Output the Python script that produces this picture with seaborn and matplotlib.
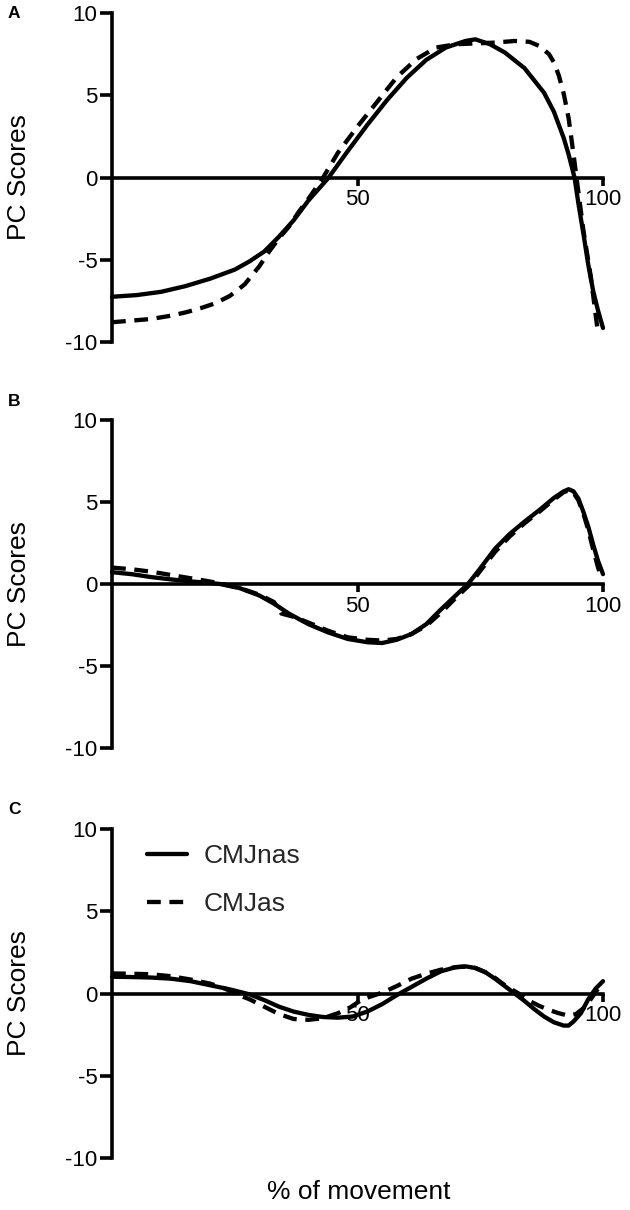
import matplotlib
matplotlib.use("Agg")
import matplotlib.pyplot as plt
import seaborn as sns
import pandas as pd

# ---------------- data ----------------
a_solid_x = [0, 5, 10, 15, 20, 25, 28, 31, 34, 37, 40, 44, 48, 52, 56, 60, 64, 68, 72, 74,
             77, 80, 84, 88, 90, 91, 92, 93, 94.2, 95, 96, 97, 98, 99, 100]
a_solid_y = [-7.25, -7.15, -6.95, -6.6, -6.15, -5.6, -5.1, -4.5, -3.6, -2.6, -1.4, -0.05, 1.6,
             3.2, 4.7, 6.05, 7.15, 7.9, 8.3, 8.4, 8.1, 7.6, 6.65, 5.15, 4.0, 3.2, 2.4, 1.4, 0.0,
             -1.6, -3.4, -5.3, -6.9, -8.1, -9.15]
a_dash_x = [0, 4, 8, 12, 15, 18, 21, 24, 27, 30, 32, 34, 36, 38, 40, 43, 46, 50, 54, 58, 62,
            66, 70, 74, 78, 82, 85, 87, 89, 90, 91, 92, 93, 94, 94.6, 96, 97.5, 99]
a_dash_y = [-8.8, -8.7, -8.6, -8.4, -8.2, -7.95, -7.65, -7.2, -6.5, -5.4, -4.5, -3.7, -3.0,
            -2.1, -1.3, 0.0, 1.5, 3.1, 4.6, 6.1, 7.2, 7.9, 8.1, 8.15, 8.2, 8.3, 8.25, 8.0, 7.5,
            7.0, 6.2, 5.1, 3.6, 1.4, 0.0, -3.2, -6.0, -9.5]

b_solid_x = [0, 4, 8, 12, 16, 20, 22, 26, 30, 33, 36, 40, 44, 48, 52, 55, 58, 61, 64, 67, 70,
             72.5, 75, 78, 81, 84, 87, 90, 92, 93, 94, 95, 96, 97, 98, 99, 100]
b_solid_y = [0.72, 0.6, 0.42, 0.28, 0.16, 0.06, 0.0, -0.25, -0.7, -1.2, -1.8, -2.45, -2.95,
             -3.35, -3.55, -3.6, -3.4, -3.05, -2.45, -1.55, -0.7, 0.0, 0.95, 2.15, 3.05, 3.8,
             4.5, 5.25, 5.65, 5.78, 5.65, 5.2, 4.4, 3.5, 2.4, 1.4, 0.6]
b_dash_x = [0, 4, 8, 12, 16, 20, 22.5, 26, 30, 33, 34.5, 37, 40, 44, 48, 52, 55, 58, 61, 64,
            67, 70, 73, 75, 78, 81, 84, 87, 90, 92, 93, 94, 95, 96, 97, 98, 99, 99.7]
b_dash_y = [1.0, 0.9, 0.75, 0.55, 0.35, 0.15, 0.0, -0.25, -0.65, -1.1, -1.8, -2.0, -2.35,
            -2.85, -3.25, -3.4, -3.45, -3.35, -3.05, -2.55, -1.75, -0.85, 0.0, 0.8, 1.95, 2.9,
            3.7, 4.4, 5.15, 5.6, 5.7, 5.55, 5.1, 4.3, 3.3, 2.1, 1.0, 0.35]

c_solid_x = [0, 4, 8, 12, 16, 20, 24, 28, 31, 34, 37, 40, 43, 46, 49, 52, 55, 58, 61, 64, 67,
             70, 72, 74, 76, 78, 80, 82, 84, 86, 88, 90, 92, 93, 94, 95.5, 97, 98.5, 100]
c_solid_y = [1.02, 1.0, 0.97, 0.9, 0.75, 0.5, 0.25, -0.05, -0.4, -0.8, -1.1, -1.3, -1.43,
             -1.47, -1.4, -1.1, -0.65, -0.1, 0.4, 0.9, 1.35, 1.6, 1.65, 1.55, 1.3, 0.9, 0.45,
             0.0, -0.45, -0.95, -1.4, -1.75, -1.95, -1.95, -1.7, -1.2, -0.35, 0.3, 0.75]
c_dash_x = [0, 4, 8, 12, 16, 20, 23, 25, 28, 31, 34, 37, 40, 43, 46, 48.5, 51, 53, 55, 58, 61,
            64, 67, 70, 72, 74, 76, 78, 80, 82.8, 85, 87, 89, 91, 93, 94.5, 96, 97.5, 99, 100]
c_dash_y = [1.22, 1.2, 1.17, 1.05, 0.85, 0.6, 0.3, 0.0, -0.35, -0.8, -1.25, -1.55, -1.6, -1.5,
            -1.2, -0.85, -0.35, -0.15, 0.05, 0.45, 0.9, 1.2, 1.45, 1.6, 1.63, 1.55, 1.3, 0.95,
            0.5, 0.0, -0.45, -0.75, -1.0, -1.2, -1.35, -1.25, -0.9, -0.35, 0.3, 0.7]

panel_letters = ["A", "B", "C"]
series_names = ["CMJnas", "CMJas"]
y_ticks = [-10, -5, 0, 5, 10]
y_tick_labels = ["-10", "-5", "0", "5", "10"]
x_ticks = [50, 100]
x_tick_labels = ["50", "100"]
y_label = "PC Scores"
x_label = "% of movement"

# ---------------- style ----------------
sns.set_theme(style="ticks")
plt.rcParams["font.family"] = ["Liberation Sans", "DejaVu Sans"]
plt.rcParams["axes.unicode_minus"] = False

W, H = 630, 1210
fig = plt.figure(figsize=(W / 100, H / 100), dpi=100)
fig.patch.set_facecolor("white")

left_px, right_px = 112, 603
panels_px = [(13, 342), (420, 748), (829, 1158)]   # (top, bottom) in pixels
letter_tops = [6, 394, 802]

panel_data = [
    (a_solid_x, a_solid_y, a_dash_x, a_dash_y),
    (b_solid_x, b_solid_y, b_dash_x, b_dash_y),
    (c_solid_x, c_solid_y, c_dash_x, c_dash_y),
]

LW_AX = 2.6
LW_LINE = 3.1
DASH = (0, (3.2, 2.0))

axes = []
for i, ((top, bot), (sx, sy, dx, dy)) in enumerate(zip(panels_px, panel_data)):
    ax = fig.add_axes([left_px / W, 1 - bot / H, (right_px - left_px) / W, (bot - top) / H])
    ax.set_facecolor("none")
    df_s = pd.DataFrame({"x": sx, "y": sy})
    df_d = pd.DataFrame({"x": dx, "y": dy})
    sns.lineplot(data=df_s, x="x", y="y", ax=ax, color="black", linewidth=LW_LINE,
                 label=series_names[0], sort=False, clip_on=False, zorder=5)
    sns.lineplot(data=df_d, x="x", y="y", ax=ax, color="black", linewidth=LW_LINE,
                 linestyle=DASH, label=series_names[1], sort=False, clip_on=False, zorder=5)

    ax.set_xlim(0, 100)
    ax.set_ylim(-10, 10)
    for s in ["top", "right"]:
        ax.spines[s].set_visible(False)
    ax.spines["bottom"].set_position(("data", 0))
    for s in ["left", "bottom"]:
        ax.spines[s].set_linewidth(LW_AX)
        ax.spines[s].set_color("black")
        ax.spines[s].set_capstyle("projecting")

    ax.set_yticks(y_ticks)
    ax.set_yticklabels(y_tick_labels)
    ax.set_xticks(x_ticks)
    ax.set_xticklabels(x_tick_labels)
    ax.tick_params(axis="y", direction="out", length=8.5, width=LW_AX, pad=2,
                   labelsize=16, colors="black")
    ax.tick_params(axis="x", direction="out", length=5.5, width=LW_AX, pad=3,
                   labelsize=16, colors="black")

    ax.set_ylabel(y_label, fontsize=19, color="black")
    ax.yaxis.set_label_coords(31 / W, 1 - ((top + bot) / 2) / H, transform=fig.transFigure)
    ax.set_xlabel("")
    ax.grid(False)

    if i < 2:
        ax.get_legend().remove()
    else:
        leg = ax.legend(loc="upper left", bbox_to_anchor=(147 / W, 1 - 844 / H),
                        bbox_transform=fig.transFigure, frameon=False, fontsize=19,
                        handlelength=1.52, handletextpad=0.62, labelspacing=0.9,
                        borderpad=0, borderaxespad=0)
        ax.set_xlabel(x_label, fontsize=19, color="black")
        ax.xaxis.set_label_coords(359 / W, 1 - 1180 / H, transform=fig.transFigure)
        ax.xaxis.label.set_va("top")

    fig.text(8 / W, 1 - letter_tops[i] / H, panel_letters[i], fontsize=12.5,
             fontweight="bold", ha="left", va="top", color="black")
    axes.append(ax)

fig.savefig("out.png", dpi=100, facecolor="white")
